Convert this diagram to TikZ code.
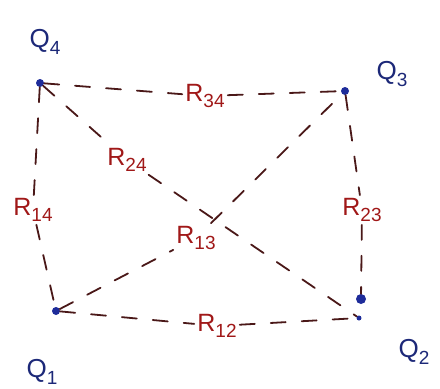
\documentclass[tikz,border=0pt]{standalone}
\usepackage{fontspec}
\setmainfont{Liberation Sans}
\definecolor{lineC}{HTML}{4A1818}
\definecolor{rC}{HTML}{A01818}
\definecolor{qC}{HTML}{1C2878}
\definecolor{dotC}{HTML}{1E2C9A}
\newcommand\lbsub[2]{#1\raisebox{-0.45ex}{\fontsize{19}{19}\selectfont #2}}
\begin{document}
\begin{tikzpicture}[x=1pt,y=-1pt,
  con/.style={draw=lineC, line width=1.8pt, dash pattern=on 15pt off 16pt, line cap=round},
  pt/.style={circle, fill=dotC, inner sep=0pt, minimum size=8pt},
  rlab/.style={text=rC, font=\fontsize{25}{27}\selectfont, inner sep=3pt},
  qlab/.style={text=qC, font=\fontsize{26}{28}\selectfont, inner sep=1pt}]
\useasboundingbox (0,0) rectangle (440,389);
% points
\node[pt] (q4) at (40,83) {};
\node[pt] (q3) at (345,91) {};
\node[pt, minimum size=10pt] (q2) at (361,299) {};
\node[pt, minimum size=5pt] (q2b) at (359,318) {};
\node[pt] (q1) at (56,311) {};
% point labels
\node[qlab] (l4) at (45,42) {\lbsub{Q}{4}};
\node[qlab] (l3) at (392,74) {\lbsub{Q}{3}};
\node[qlab] (l2) at (414,352) {\lbsub{Q}{2}};
\node[qlab] (l1) at (42,372) {\lbsub{Q}{1}};
% distance labels
\node[rlab] (r34) at (205,96) {\lbsub{R}{34}};
\node[rlab] (r24) at (127,160) {\lbsub{R}{24}};
\node[rlab] (r14) at (33,210) {\lbsub{R}{14}};
\node[rlab] (r13) at (196,238) {\lbsub{R}{13}};
\node[rlab] (r23) at (362,210) {\lbsub{R}{23}};
\node[rlab] (r12) at (217,326) {\lbsub{R}{12}};
% connectors
\draw[con] (q4) -- (r34) -- (q3);
\draw[con] (q4) -- (r14) -- (q1);
\draw[con] (q3) -- (r23) -- (q2);
\draw[con] (q1) -- (r12) -- (q2b);
\draw[con] (q1) -- (r13) -- (q3);
\draw[con] (q4) -- (r24) -- (q2b);
\end{tikzpicture}
\end{document}
